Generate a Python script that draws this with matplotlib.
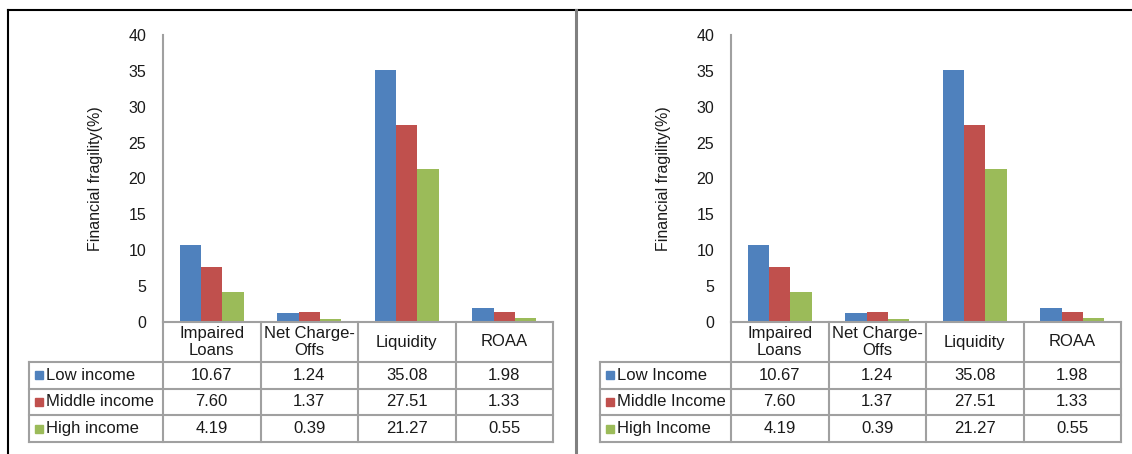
import matplotlib
matplotlib.use("Agg")
import matplotlib.pyplot as plt
from matplotlib.lines import Line2D

plt.rcParams['font.family'] = ['Liberation Sans', 'DejaVu Sans']

categories = ['Impaired\nLoans', 'Net Charge-\nOffs', 'Liquidity', 'ROAA']
low_income = [10.67, 1.24, 35.08, 1.98]
middle_income = [7.60, 1.37, 27.51, 1.33]
high_income = [4.19, 0.39, 21.27, 0.55]
labels_left = ['Low income', 'Middle income', 'High income']
labels_right = ['Low Income', 'Middle Income', 'High Income']
y_ticks = [0, 5, 10, 15, 20, 25, 30, 35, 40]
y_label = 'Financial fragility(%)'

colors = ['#4F81BD', '#C0504D', '#9BBB59']
grid_col = '#a0a0a0'
text_col = '#1a1a1a'

W, H = 1132, 454
fig = plt.figure(figsize=(W / 100, H / 100), dpi=100)


def px_axes(x0, y0, x1, y1):
  # axes from pixel box (top-left origin)
  return fig.add_axes([x0 / W, 1 - y1 / H, (x1 - x0) / W, (y1 - y0) / H])


def draw_panel(x_tab, x_axis, x_end, row_labels):
  series = [low_income, middle_income, high_income]
  n = len(categories)
  bw = 0.22

  # bars
  ax = px_axes(x_axis, 35, x_end, 322)
  for i, vals in enumerate(series):
    xs = [j + (i - 1) * bw for j in range(n)]
    ax.bar(xs, vals, width=bw, color=colors[i], linewidth=0)
  ax.set_xlim(-0.5, n - 0.5)
  ax.set_ylim(0, 40)
  ax.set_yticks(y_ticks)
  ax.set_xticks([])
  for s in ['top', 'right', 'bottom']:
    ax.spines[s].set_visible(False)
  ax.spines['left'].set_color(grid_col)
  ax.spines['left'].set_linewidth(1.5)
  ax.tick_params(axis='y', length=0, pad=12, labelsize=11.5, labelcolor=text_col)
  ax.set_ylabel(y_label, fontsize=11.5, color=text_col)
  ax.yaxis.set_label_coords(-60 / (x_end - x_axis), 0.5)

  # data table below the axis
  cw = x_end - x_axis
  hdr = (x_axis - x_tab) / (cw / n)
  tx = px_axes(x_tab, 322, x_end, 442)
  tx.set_xlim(-0.5 - hdr, n - 0.5)
  tx.set_ylim(120, 0)
  tx.axis('off')
  rows_y = [0, 40, 66.5, 93, 120]

  def seg(xa, xb, ya, yb):
    tx.add_line(Line2D([xa, xb], [ya, yb], color=grid_col, lw=1.5, clip_on=False))

  seg(-0.5, n - 0.5, 0, 0)
  for y in rows_y[1:]:
    seg(-0.5 - hdr, n - 0.5, y, y)
  seg(-0.5 - hdr, -0.5 - hdr, rows_y[1], rows_y[-1])
  for j in range(n + 1):
    seg(j - 0.5, j - 0.5, 0, rows_y[-1])

  for j, c in enumerate(categories):
    tx.text(j, rows_y[1] / 2, c, ha='center', va='center', fontsize=12,
            color=text_col, linespacing=1.15)
  for i, vals in enumerate(series):
    yc = (rows_y[i + 1] + rows_y[i + 2]) / 2
    for j, v in enumerate(vals):
      tx.text(j, yc, f'{v:.2f}', ha='center', va='center', fontsize=12, color=text_col)
    tx.plot([-0.5 - hdr + 0.10], [yc], marker='s', ms=5.5, color=colors[i], clip_on=False)
    tx.text(-0.5 - hdr + 0.175, yc, row_labels[i], ha='left', va='center',
            fontsize=12, color=text_col)


draw_panel(29, 163, 553, labels_left)
draw_panel(600, 731, 1121, labels_right)

# outer frame lines
fig.add_artist(Line2D([8 / W, 1], [1 - 10 / H, 1 - 10 / H], color='black', lw=1.5))
fig.add_artist(Line2D([8 / W, 8 / W], [0, 1 - 10 / H], color='black', lw=1.5))
fig.add_artist(Line2D([576 / W, 576 / W], [0, 1 - 10 / H], color='#808080', lw=2.2))

fig.savefig('out.png', dpi=100)
